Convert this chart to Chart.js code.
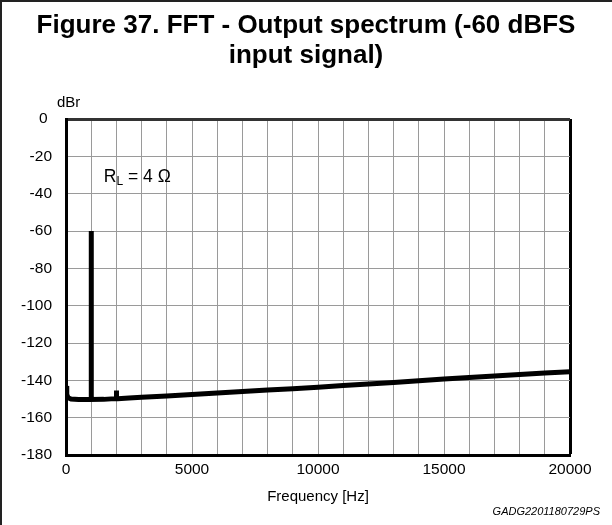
<!DOCTYPE html>
<html>
<head>
<meta charset="utf-8">
<script src="https://cdn.jsdelivr.net/npm/chart.js@4.4.1/dist/chart.umd.min.js"></script>
<style>
  html, body { margin: 0; padding: 0; background: #fff; }
  canvas { display: block; }
</style>
</head>
<body>
<canvas id="fftChart" width="612" height="525"></canvas>
<script>
// data
let freqHz = [0, 30, 80, 200, 500, 990, 1000, 1000, 1000, 1010, 1500, 1950, 1990, 2000, 2010, 2050, 2500, 3000,
  4000, 5000, 6000, 7000, 8000, 9000, 10000, 11000, 12000, 13000, 14000, 15000, 16000, 17000, 18000, 19000, 20000];
let levelDbr = [-143, -147.5, -149.3, -150, -150.3, -150.3, -150.3, -60, -150.3, -150.3, -150.2, -149.8, -149.8, -145.5, -149.8, -149.8, -149.5, -149.1,
  -148.4, -147.6, -146.8, -146, -145.2, -144.5, -143.7, -142.8, -142, -141.1, -140.2, -139.3, -138.5, -137.7, -136.9, -136.1, -135.4];

let xTicks = [0, 5000, 10000, 15000, 20000];
let titleLines = ['Figure 37. FFT - Output spectrum (-60 dBFS', 'input signal)'];

let points = freqHz.map((f, i) => ({x: f, y: levelDbr[i]}));

Chart.defaults.font.family = '"Liberation Sans", Arial, sans-serif';
Chart.defaults.color = '#000';

// extra texts + page frame
const extras = {
  id: 'extras',
  afterDraw(chart) {
    const ctx = chart.ctx;
    const xs = chart.scales.x, ys = chart.scales.y;
    ctx.save();
    ctx.fillStyle = '#222';
    ctx.fillRect(0, 0, 612, 2);
    ctx.fillRect(0, 0, 2, 525);

    ctx.fillStyle = '#000';
    ctx.textBaseline = 'middle';
    ctx.textAlign = 'left';
    ctx.font = '15px "Liberation Sans", Arial, sans-serif';
    ctx.fillText('dBr', 57, 103);

    // R_L = 4 Ω
    ctx.textBaseline = 'alphabetic';
    let x = xs.getPixelForValue(1500);
    let y = ys.getPixelForValue(-33.5);
    ctx.font = '17.5px "Liberation Sans", Arial, sans-serif';
    ctx.fillText('R', x, y);
    x += ctx.measureText('R').width;
    ctx.font = '12px "Liberation Sans", Arial, sans-serif';
    ctx.fillText('L', x, y + 3.5);
    x += ctx.measureText('L').width;
    ctx.font = '17.5px "Liberation Sans", Arial, sans-serif';
    ctx.fillText(' = 4 Ω', x, y);

    ctx.textAlign = 'right';
    ctx.textBaseline = 'middle';
    ctx.font = 'italic 11px "Liberation Sans", Arial, sans-serif';
    ctx.fillText('GADG2201180729PS', 600, 512);
    ctx.restore();
  }
};

new Chart(document.getElementById('fftChart'), {
  type: 'scatter',
  data: {
    datasets: [{
      data: points,
      showLine: true,
      borderColor: '#000',
      backgroundColor: '#000',
      borderWidth: 5,
      pointRadius: 0,
      tension: 0
    }]
  },
  options: {
    responsive: false,
    animation: false,
    layout: { padding: 0 },
    plugins: {
      legend: { display: false },
      tooltip: { enabled: false },
      title: {
        display: true,
        text: titleLines,
        color: '#000',
        font: { size: 26, weight: 'bold', lineHeight: '30px' },
        padding: { top: 11, bottom: 48 }
      }
    },
    scales: {
      x: {
        type: 'linear',
        min: 0,
        max: 20000,
        afterFit(s) { s.height = 70; },
        border: { color: '#000', width: 3 },
        grid: {
          drawTicks: false,
          color: c => c.tick.value === 20000 ? '#000' : '#9a9a9a',
          lineWidth: c => c.tick.value === 20000 ? 3 : 1
        },
        ticks: {
          stepSize: 1000,
          autoSkip: false,
          maxRotation: 0,
          padding: 5,
          font: { size: 15.5 },
          callback: v => xTicks.includes(v) ? String(v) : ''
        },
        title: {
          display: true,
          text: 'Frequency [Hz]',
          font: { size: 15 },
          padding: { top: 0, bottom: 19 }
        }
      },
      y: {
        type: 'linear',
        min: -180,
        max: 0,
        afterFit(s) { s.width = 66; },
        border: { color: '#000', width: 3 },
        grid: {
          drawTicks: false,
          color: c => c.tick.value === 0 ? '#333' : '#9a9a9a',
          lineWidth: c => c.tick.value === 0 ? 3 : 1
        },
        ticks: {
          stepSize: 20,
          padding: 14,
          font: { size: 15.5 },
          callback: v => v === 0 ? '0 ' : String(v)
        }
      },
      y2: {
        position: 'right',
        display: true,
        afterFit(s) { s.width = 42; },
        grid: { display: false },
        border: { display: false },
        ticks: { display: false }
      }
    }
  },
  plugins: [extras]
});
</script>
</body>
</html>
